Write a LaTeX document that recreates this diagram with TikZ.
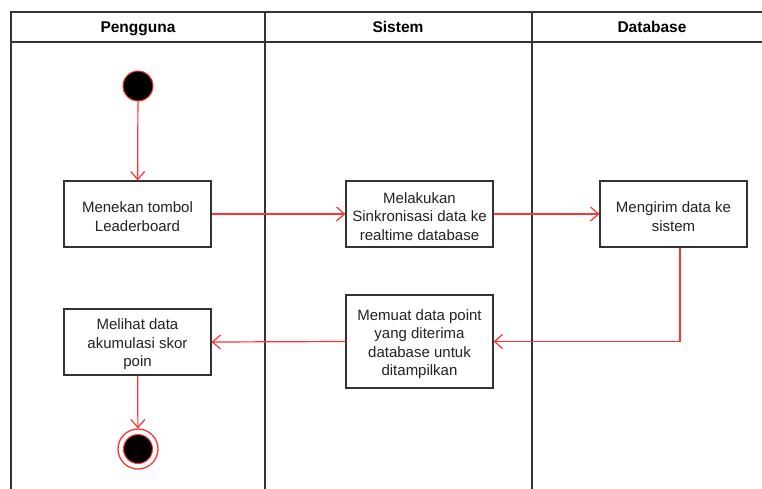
\documentclass[tikz,border=0pt]{standalone}
\usepackage{fontspec}
\setmainfont{Liberation Sans}
\usetikzlibrary{arrows.meta}
\definecolor{flow}{RGB}{255,51,51}
\definecolor{txt}{RGB}{34,34,34}
\begin{document}
\begin{tikzpicture}[x=1pt,y=-1pt,
  lane/.style={draw=black!80,line width=1.2pt},
  acttext/.style={align=center,font=\fontsize{15}{18.5}\selectfont,text=txt,
    inner sep=0pt,yshift=-2.5pt},
  act/.style={draw=black!80,line width=1.2pt,fill=white,rectangle,minimum width=147pt,
    inner sep=0pt,label={[acttext]center:#1}},
  flowline/.style={draw=flow,line width=1.2pt,-{Straight Barb[length=8pt,width=14pt]}},
  head/.style={font=\bfseries\fontsize{15.5}{19}\selectfont,text=black,
    text height=11pt,text depth=3pt,inner sep=0pt}]
\useasboundingbox (0,0) rectangle (762,488);
\clip (0,0) rectangle (762,488);
% swimlane frame
\draw[lane] (11,500) -- (11,12) -- (790,12);
\draw[lane] (11,42) -- (790,42);
\draw[lane] (265,12) -- (265,500);
\draw[lane] (532,12) -- (532,500);
\node[head] (h1) at (138,28.5) {Pengguna};
\node[head] (h2) at (398,28.5) {Sistem};
\node[head] (h3) at (652,28.5) {Database};
% start and end states
\node[circle,fill=black,draw=flow,line width=1pt,minimum size=30pt,inner sep=0pt] (start) at (138,86) {};
\node[circle,draw=flow,line width=1.3pt,minimum size=40pt,inner sep=0pt] (finish) at (138,449) {};
\node[circle,fill=black,draw=flow,line width=1pt,minimum size=29pt,inner sep=0pt] (finishin) at (138,449) {};
% activities
\node[act={Menekan tombol\\Leaderboard},minimum height=66pt] (a1) at (137.5,214) {};
\node[act={Melakukan\\Sinkronisasi data ke\\realtime database},minimum height=66pt] (a2) at (419.5,214) {};
\node[act={Mengirim data ke\\sistem},minimum height=66pt] (a3) at (673.5,214) {};
\node[act={Memuat data point\\yang diterima\\database untuk\\ditampilkan},minimum height=93pt] (a4) at (419.5,341.5) {};
\node[act={Melihat data\\akumulasi skor\\poin},minimum height=66pt] (a5) at (137.5,342) {};
% control flow
\draw[flowline] (start) -- (a1);
\draw[flowline] (a1) -- (a2);
\draw[flowline] (a2) -- (a3);
\draw[flowline] ([xshift=6.5pt]a3.south) |- (a4.east);
\draw[flowline] (a4.west) -- (a5.east);
\draw[flowline] (a5) -- (finish);
\end{tikzpicture}
\end{document}
